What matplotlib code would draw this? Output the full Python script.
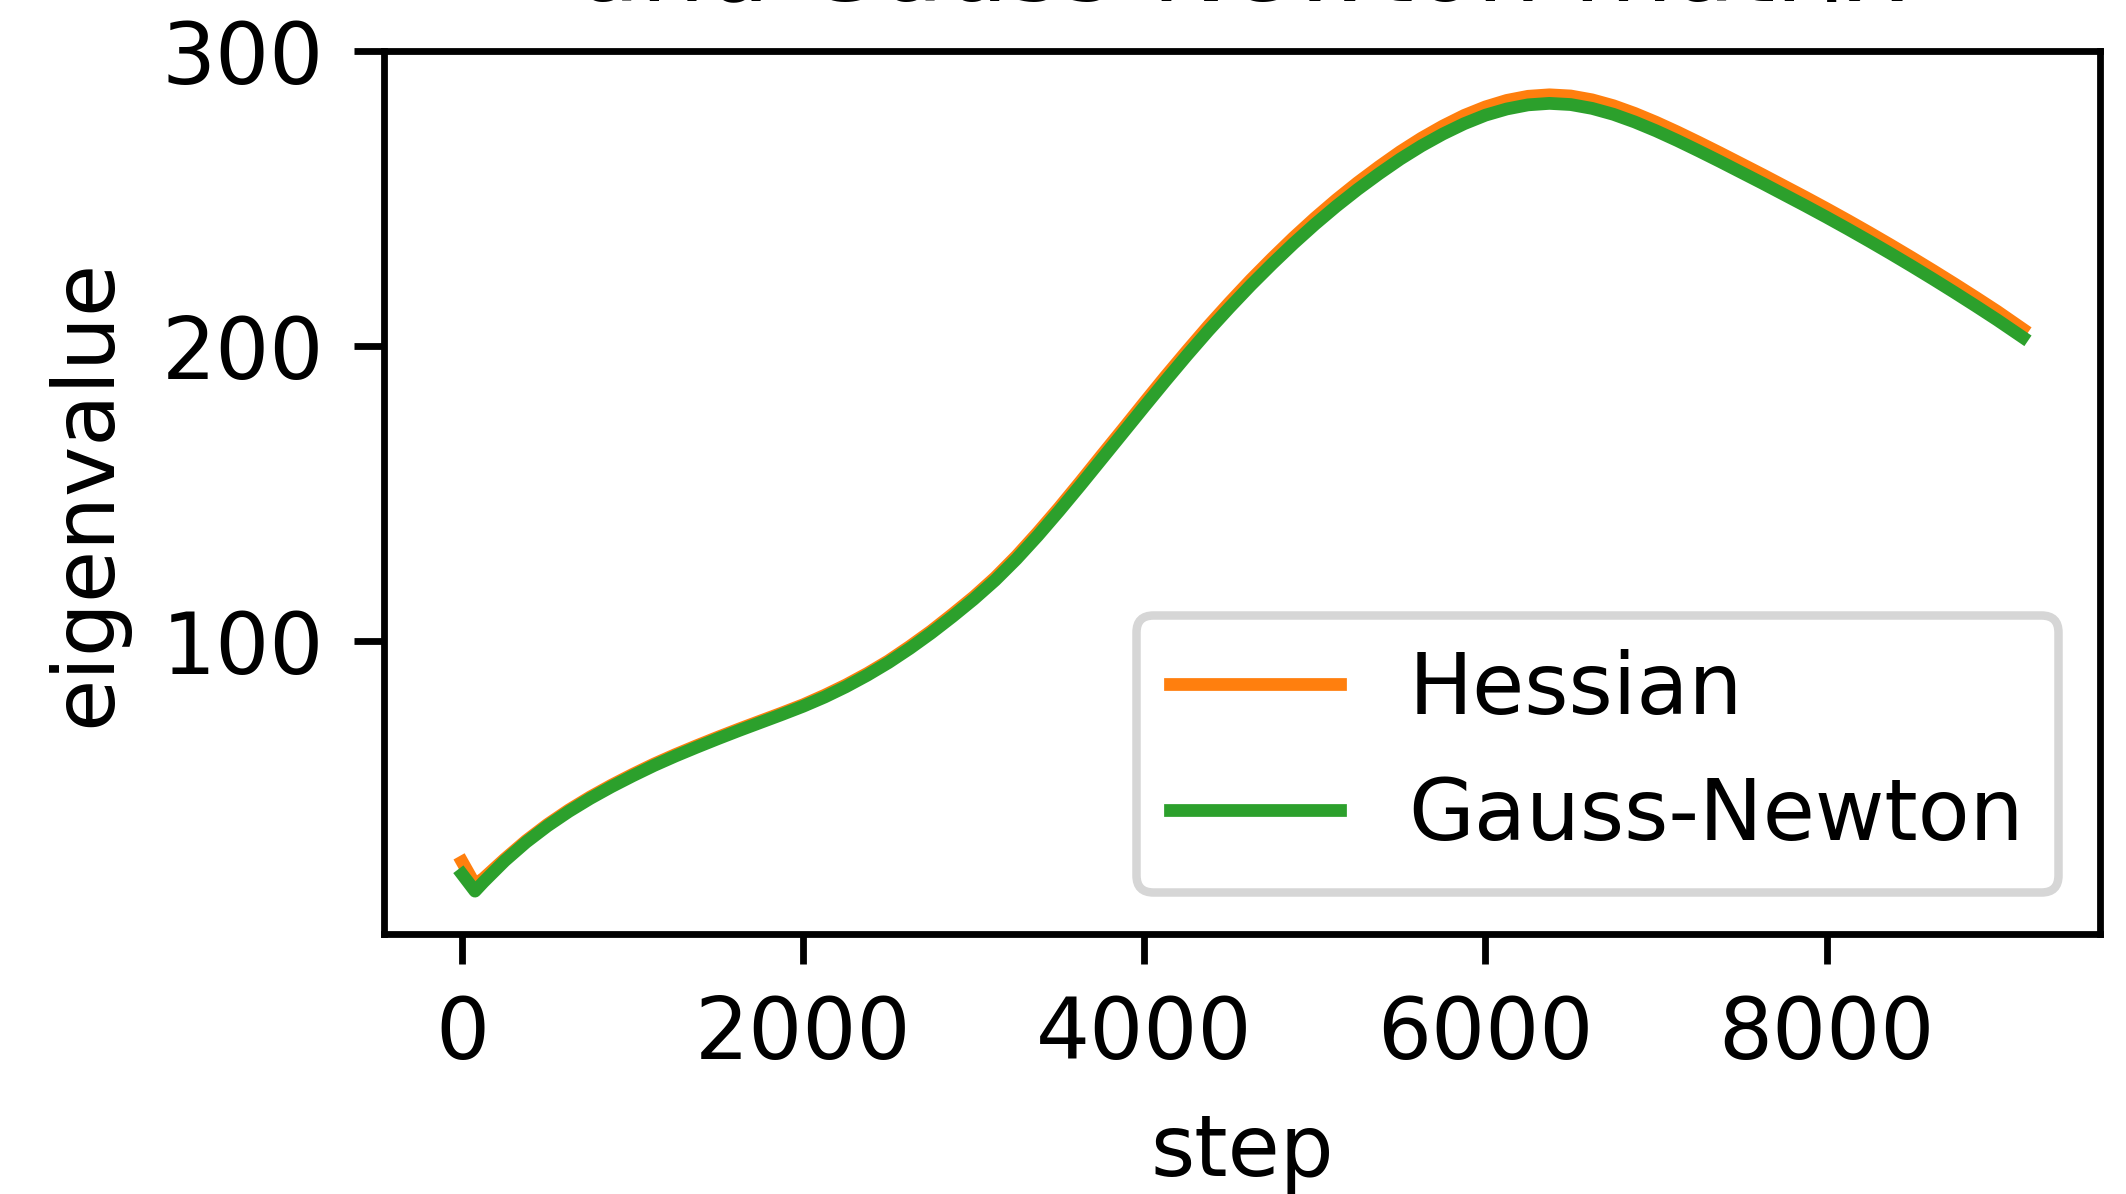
import matplotlib
matplotlib.use('Agg')
import matplotlib.pyplot as plt

# Training steps at which the top eigenvalue was measured
steps = [0, 75,
         125, 250, 375, 500, 625, 750, 875, 1000,
         1125, 1250, 1375, 1500, 1625, 1750, 1875, 2000,
         2125, 2250, 2375, 2500, 2625, 2750, 2875, 3000,
         3125, 3250, 3375, 3500, 3625, 3750, 3875, 4000,
         4125, 4250, 4375, 4500, 4625, 4750, 4875, 5000,
         5125, 5250, 5375, 5500, 5625, 5750, 5875, 6000,
         6125, 6250, 6375, 6500, 6625, 6750, 6875, 7000,
         7125, 7250, 7375, 7500, 7625, 7750, 7875, 8000,
         8125, 8250, 8375, 8500, 8625, 8750, 8875, 9000,
         9150]

# Top eigenvalue of the Hessian
hessian = [25.2, 17.5,
           19.6, 26.2, 32.4, 37.9, 42.8, 47.2, 51.2, 54.9,
           58.4, 61.6, 64.6, 67.5, 70.3, 73.0, 75.7, 78.5,
           81.7, 85.2, 89.1, 93.4, 98.3, 103.5, 109.2, 115.1,
           121.6, 128.9, 136.9, 145.3, 154.1, 163.1, 172.0, 181.0,
           189.9, 198.5, 206.9, 214.9, 222.6, 229.9, 236.9, 243.5,
           249.7, 255.5, 260.9, 266.0, 270.6, 274.7, 278.3, 281.2,
           283.4, 284.8, 285.3, 284.9, 283.6, 281.6, 279.0, 276.0,
           272.7, 269.2, 265.6, 261.9, 258.2, 254.4, 250.6, 246.7,
           242.7, 238.6, 234.4, 230.1, 225.7, 221.2, 216.6, 211.9,
           205.9]

# Top eigenvalue of the Gauss-Newton matrix
gauss_newton = [21.0, 15.3,
                18.4, 25.6, 31.9, 37.4, 42.3, 46.7, 50.7, 54.4,
                57.9, 61.1, 64.1, 67.0, 69.8, 72.5, 75.2, 78.0,
                81.1, 84.6, 88.5, 92.8, 97.6, 102.8, 108.4, 114.3,
                120.7, 127.9, 135.8, 144.2, 152.9, 161.8, 170.7, 179.6,
                188.4, 197.0, 205.3, 213.2, 220.8, 228.0, 234.9, 241.4,
                247.5, 253.2, 258.5, 263.5, 268.0, 272.0, 275.5, 278.4,
                280.5, 281.9, 282.4, 282.0, 280.7, 278.7, 276.1, 273.1,
                269.8, 266.3, 262.7, 259.0, 255.3, 251.5, 247.7, 243.8,
                239.8, 235.7, 231.5, 227.2, 222.8, 218.3, 213.7, 209.0,
                203.1]

dpi = 612
fig = plt.figure(figsize=(2126 / dpi, 1194 / dpi), dpi=dpi)
ax = fig.add_axes([0.1805, 0.2176, 0.8074, 0.7393])

ax.plot(steps, hessian, color='C1', label='Hessian')
ax.plot(steps, gauss_newton, color='C2', label='Gauss-Newton')

ax.set_xlim(-460, 9605)
ax.set_ylim(0.7, 300)
ax.set_yticks([100, 200, 300])
ax.set_xticks([0, 2000, 4000, 6000, 8000])

ax.set_xlabel('step')
ax.set_ylabel('eigenvalue')
ax.set_title('Top eigenvalue of the Hessian\nand Gauss-Newton matrix')
ax.legend(loc='lower right')

fig.savefig('out.png', dpi=dpi)
